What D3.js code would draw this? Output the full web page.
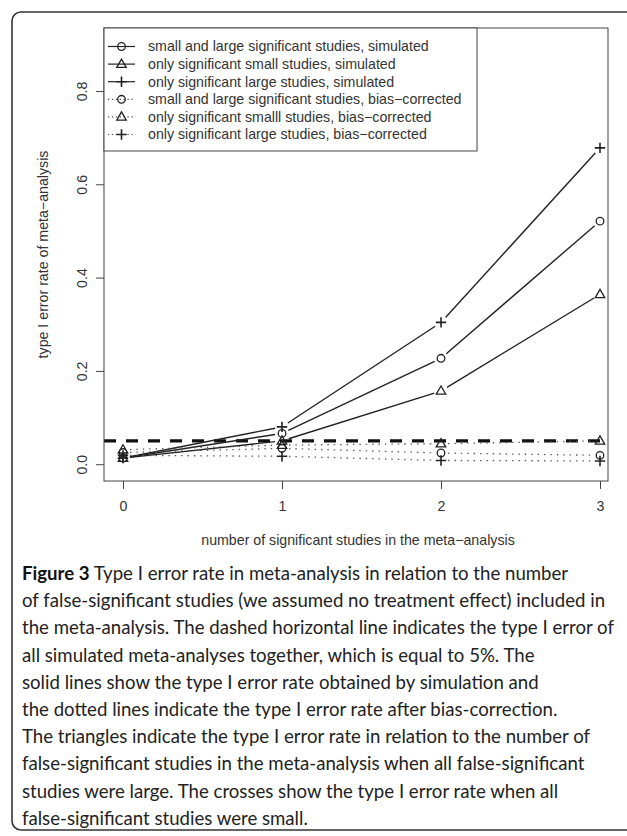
<!DOCTYPE html>
<html>
<head>
<meta charset="utf-8">
<script src="https://cdn.jsdelivr.net/npm/d3@7"></script>
<style>
  html, body { margin: 0; padding: 0; background: #fff; }
  svg { display: block; }
</style>
</head>
<body>
<div id="chart"></div>
<script>
// number of significant studies in the meta-analysis
const studies = [0, 1, 2, 3];

// type I error rates, simulated (solid lines)
const simBoth = [0.013, 0.066, 0.227, 0.521];
const simSmall = [0.013, 0.050, 0.157, 0.364];
const simLarge = [0.013, 0.080, 0.304, 0.678];

// type I error rates, bias-corrected (dotted lines)
const corrBoth = [0.025, 0.034, 0.024, 0.019];
const corrSmall = [0.031, 0.041, 0.044, 0.050];
const corrLarge = [0.019, 0.017, 0.008, 0.007];

const overallRate = 0.05;

const yTicks = [0, 0.2, 0.4, 0.6, 0.8];

const legendLabels = [
  "small and large significant studies, simulated",
  "only significant small studies, simulated",
  "only significant large studies, simulated",
  "small and large significant studies, bias\u2212corrected",
  "only significant smalll studies, bias\u2212corrected",
  "only significant large studies, bias\u2212corrected",
];

const captionLines = [
  ["Figure 3", " Type I error rate in meta-analysis in relation to the number"],
  ["", "of false-significant studies (we assumed no treatment effect) included in"],
  ["", "the meta-analysis. The dashed horizontal line indicates the type I error of"],
  ["", "all simulated meta-analyses together, which is equal to 5%. The"],
  ["", "solid lines show the type I error rate obtained by simulation and"],
  ["", "the dotted lines indicate the type I error rate after bias-correction."],
  ["", "The triangles indicate the type I error rate in relation to the number of"],
  ["", "false-significant studies in the meta-analysis when all false-significant"],
  ["", "studies were large. The crosses show the type I error rate when all"],
  ["", "false-significant studies were small."],
];

const series = [
  { values: simBoth, shape: "circle", dotted: false },
  { values: simSmall, shape: "triangle", dotted: false },
  { values: simLarge, shape: "plus", dotted: false },
  { values: corrBoth, shape: "circle", dotted: true },
  { values: corrSmall, shape: "triangle", dotted: true },
  { values: corrLarge, shape: "plus", dotted: true },
];

const width = 627;
const height = 836;
const ink = "#222";
const plotFont = "'Liberation Sans', Arial, sans-serif";
const plotSize = 14.2;

const box = { left: 104, right: 608, top: 28, bottom: 481 };

const svg = d3.select("#chart")
  .append("svg")
  .attr("width", width)
  .attr("height", height);

/* rounded frame around figure + caption (runs off to the right) */
svg.append("rect")
  .attr("x", 12).attr("y", 12)
  .attr("width", 650).attr("height", 818)
  .attr("rx", 9)
  .attr("fill", "none")
  .attr("stroke", "#333")
  .attr("stroke-width", 1.6);

/* scales: R style 4% padding on y, x cut off at the right edge */
const x = d3.scaleLinear().domain([0, 3]).range([123, 600]);
const y = d3.scaleLinear().domain([-0.036, 0.935]).range([box.bottom, box.top]);

const defs = svg.append("defs");
defs.append("clipPath").attr("id", "plotclip")
  .append("rect")
  .attr("x", box.left).attr("y", box.top)
  .attr("width", box.right - box.left).attr("height", box.bottom - box.top);

/* axes */
const yAxis = svg.append("g")
  .attr("transform", `translate(${box.left},0)`)
  .call(d3.axisLeft(y).tickValues(yTicks).tickSize(8).tickFormat(d3.format(".1f")));
yAxis.select(".domain").remove();
yAxis.selectAll("line").attr("stroke", "#444");
yAxis.selectAll("text")
  .attr("x", 0).attr("dy", null).attr("y", 0)
  .attr("text-anchor", "middle")
  .attr("transform", "translate(-17,0) rotate(-90)")
  .attr("font-family", plotFont)
  .attr("font-size", plotSize)
  .attr("fill", "#333");

const xAxis = svg.append("g")
  .attr("transform", `translate(0,${box.bottom})`)
  .call(d3.axisBottom(x).tickValues(studies).tickSize(8).tickFormat(d3.format("d")));
xAxis.select(".domain").remove();
xAxis.selectAll("line").attr("stroke", "#444");
xAxis.selectAll("text")
  .attr("y", 20)
  .attr("font-family", plotFont)
  .attr("font-size", plotSize)
  .attr("fill", "#333");

svg.append("text")
  .attr("x", (box.left + box.right) / 2 + 2)
  .attr("y", 545)
  .attr("text-anchor", "middle")
  .attr("font-family", plotFont)
  .attr("font-size", plotSize)
  .attr("fill", "#333")
  .text("number of significant studies in the meta\u2212analysis");

svg.append("text")
  .attr("transform", `translate(48,${(box.top + box.bottom) / 2}) rotate(-90)`)
  .attr("text-anchor", "middle")
  .attr("font-family", plotFont)
  .attr("font-size", plotSize)
  .attr("fill", "#333")
  .text("type I error rate of meta\u2212analysis");

/* data layer */
const plot = svg.append("g").attr("clip-path", "url(#plotclip)");

// overall 5% line
plot.append("line")
  .attr("x1", box.left).attr("x2", box.right)
  .attr("y1", y(overallRate)).attr("y2", y(overallRate))
  .attr("stroke", "#111")
  .attr("stroke-width", 3.4)
  .attr("stroke-dasharray", "12,10");

// type = "b": segments stop short of each point
const gap = 7;
function drawSegments(g, s) {
  const pts = s.values.map((v, i) => [x(studies[i]), y(v)]);
  for (let i = 0; i < pts.length - 1; i++) {
    const [x0, y0] = pts[i];
    const [x1, y1] = pts[i + 1];
    const len = Math.hypot(x1 - x0, y1 - y0);
    if (len <= 2 * gap) continue;
    const ux = (x1 - x0) / len, uy = (y1 - y0) / len;
    g.append("line")
      .attr("x1", x0 + ux * gap).attr("y1", y0 + uy * gap)
      .attr("x2", x1 - ux * gap).attr("y2", y1 - uy * gap)
      .attr("stroke", s.dotted ? "#555" : ink)
      .attr("stroke-width", s.dotted ? 1.3 : 1.4)
      .attr("stroke-dasharray", s.dotted ? "1.4,5" : null);
  }
}

function drawMarker(g, shape, cx, cy) {
  if (shape === "circle") {
    g.append("circle")
      .attr("cx", cx).attr("cy", cy).attr("r", 3.8)
      .attr("fill", "none").attr("stroke", ink).attr("stroke-width", 1.3);
  } else if (shape === "triangle") {
    const r = 5;
    g.append("path")
      .attr("d", `M${cx},${cy - r} L${cx + r * 0.95},${cy + r * 0.65} L${cx - r * 0.95},${cy + r * 0.65} Z`)
      .attr("fill", "none").attr("stroke", ink).attr("stroke-width", 1.3);
  } else {
    const r = 5.2;
    g.append("path")
      .attr("d", `M${cx - r},${cy} H${cx + r} M${cx},${cy - r} V${cy + r}`)
      .attr("fill", "none").attr("stroke", ink).attr("stroke-width", 1.6);
  }
}

series.forEach((s) => {
  const g = plot.append("g");
  drawSegments(g, s);
  s.values.forEach((v, i) => drawMarker(g, s.shape, x(studies[i]), y(v)));
});

/* plot box */
svg.append("rect")
  .attr("x", box.left).attr("y", box.top)
  .attr("width", box.right - box.left).attr("height", box.bottom - box.top)
  .attr("fill", "none").attr("stroke", "#444").attr("stroke-width", 1);

/* legend (top-left, white background) */
const legend = { left: box.left, top: box.top, right: 477, bottom: 151, row0: 46.5, step: 17.6 };
svg.append("rect")
  .attr("x", legend.left).attr("y", legend.top)
  .attr("width", legend.right - legend.left).attr("height", legend.bottom - legend.top)
  .attr("fill", "#fff").attr("stroke", "#444").attr("stroke-width", 1);

series.forEach((s, i) => {
  const cy = legend.row0 + i * legend.step;
  const g = svg.append("g");
  g.append("line")
    .attr("x1", 108).attr("x2", 135)
    .attr("y1", cy).attr("y2", cy)
    .attr("stroke", s.dotted ? "#555" : ink)
    .attr("stroke-width", 1.2)
    .attr("stroke-dasharray", s.dotted ? "1.3,2.6" : null);
  drawMarker(g, s.shape, 121.5, cy);
  g.append("text")
    .attr("x", 148).attr("y", cy)
    .attr("dy", "0.35em")
    .attr("font-family", plotFont)
    .attr("font-size", plotSize)
    .attr("fill", "#333")
    .text(legendLabels[i]);
});

/* caption, fitted so the widest line matches the reference width */
const capFont = "Lato, 'Open Sans', sans-serif";
const capX = 22;
const capTop = 580;
const capStep = 27.2;
const cap = svg.append("g");
const capTexts = captionLines.map(([bold, rest], i) => {
  const t = cap.append("text")
    .attr("x", capX)
    .attr("y", capTop + i * capStep)
    .attr("font-family", capFont)
    .attr("font-size", 18)
    .attr("fill", "#222");
  if (bold) t.append("tspan").attr("font-weight", "bold").attr("fill", "#111").text(bold);
  t.append("tspan").text(rest);
  return t;
});
const probe = capTexts[2].node().getComputedTextLength();
const capSize = 18 * 592 / probe;
capTexts.forEach((t) => t.attr("font-size", capSize));
</script>
</body>
</html>
